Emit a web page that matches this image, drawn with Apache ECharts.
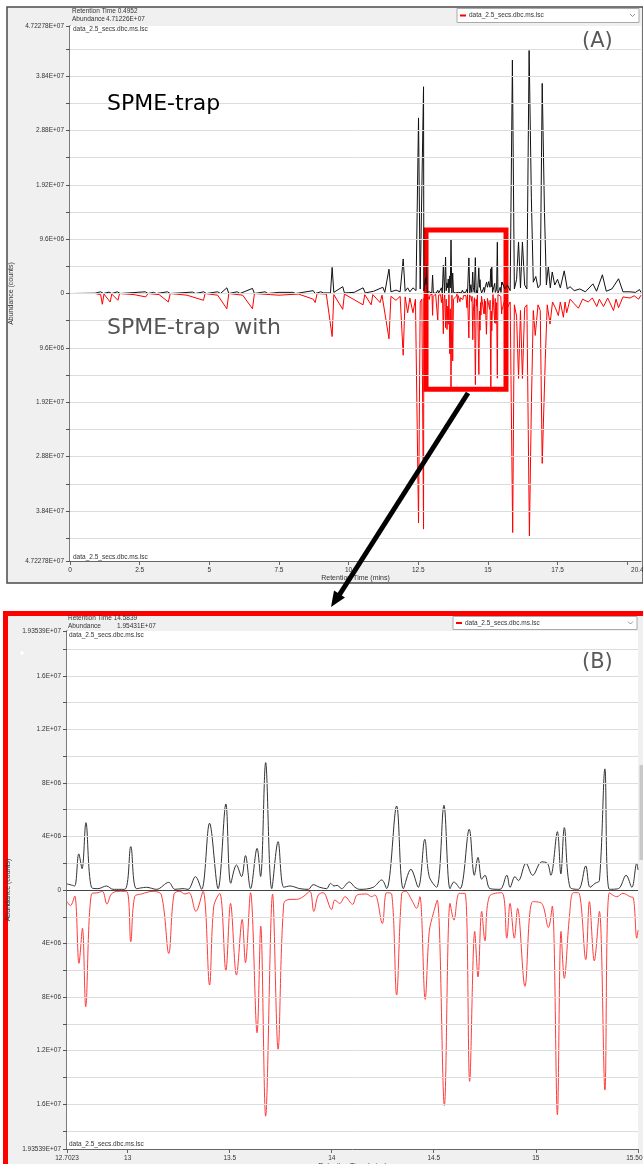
<!DOCTYPE html>
<html><head><meta charset="utf-8">
<script src="https://cdn.jsdelivr.net/npm/echarts@6/dist/echarts.min.js"></script>
<style>html,body{margin:0;padding:0;background:#fff}#c{width:643px;height:1164px}</style>
</head><body><div id="c"></div>
<script>
// ---------------- DATA ----------------
// Panel B (zoomed window 12.7023 – 15.5012 min) : [retention time, abundance]
const bBlack = [[12.7023,0.45e6],[12.724,0.37e6],[12.740,0.3e6],[12.760,2.7e6],[12.776,1.6e6],[12.795,5.03e6],[12.822,0.2e6],[12.854,0.1e6],[12.896,0.3e6],[12.928,0.05e6],[12.985,0.05e6],[13.015,3.24e6],[13.043,0.1e6],[13.092,0.2e6],[13.141,0.05e6],[13.201,0.57e6],[13.231,0.05e6],[13.271,0.1e6],[13.296,0.05e6],[13.332,1.0e6],[13.362,0.05e6],[13.401,4.99e6],[13.443,0.1e6],[13.481,6.43e6],[13.505,0.5e6],[13.533,1.87e6],[13.558,1.0e6],[13.577,2.57e6],[13.602,0.1e6],[13.634,3.11e6],[13.651,1.0e6],[13.676,9.52e6],[13.706,0.1e6],[13.737,3.61e6],[13.765,0.2e6],[13.795,0.3e6],[13.844,0.1e6],[13.885,0.05e6],[13.909,0.4e6],[13.942,0.2e6],[13.975,0.1e6],[13.994,0.5e6],[14.011,0.3e6],[14.027,0.35e6],[14.048,0.1e6],[14.086,0.6e6],[14.114,0.2e6],[14.138,0.05e6],[14.203,0.2e6],[14.245,0.75e6],[14.269,0.1e6],[14.318,6.28e6],[14.351,0.1e6],[14.388,1.55e6],[14.424,0.2e6],[14.456,3.79e6],[14.478,1.0e6],[14.514,0.2e6],[14.550,6.33e6],[14.580,0.1e6],[14.599,0.6e6],[14.629,0.1e6],[14.674,4.54e6],[14.699,1.1e6],[14.717,2.44e6],[14.735,0.8e6],[14.751,1.1e6],[14.776,0.1e6],[14.825,0.05e6],[14.858,1.1e6],[14.874,0.2e6],[14.898,1.0e6],[14.915,0.7e6],[14.952,2.0e6],[14.985,1.1e6],[15.029,2.1e6],[15.057,2.0e6],[15.074,1.1e6],[15.106,4.36e6],[15.123,1.2e6],[15.140,4.66e6],[15.168,0.2e6],[15.209,0.05e6],[15.245,1.8e6],[15.266,0.2e6],[15.291,0.5e6],[15.312,0.7e6],[15.339,9.05e6],[15.361,0.05e6],[15.405,0.1e6],[15.443,1.1e6],[15.471,0.2e6],[15.495,2.0e6],[15.5012,1.5e6]];
const bRed = [[12.7023,-0.87e6],[12.719,-1.17e6],[12.740,-0.45e6],[12.761,-5.48e6],[12.778,-2.86e6],[12.794,-8.72e6],[12.822,-0.3e6],[12.854,-0.2e6],[12.876,-0.1e6],[12.898,-1.05e6],[12.920,-0.3e6],[12.952,-0.1e6],[12.994,-0.1e6],[13.015,-3.86e6],[13.034,-0.5e6],[13.067,-0.3e6],[13.124,-0.1e6],[13.165,-0.37e6],[13.201,-4.74e6],[13.227,-0.3e6],[13.255,-0.1e6],[13.280,-0.3e6],[13.301,-0.2e6],[13.334,-1.6e6],[13.369,-0.1e6],[13.401,-7.1e6],[13.422,-1.2e6],[13.451,-0.25e6],[13.481,-6.03e6],[13.504,-1.0e6],[13.533,-6.36e6],[13.561,-2.2e6],[13.577,-5.43e6],[13.602,-0.2e6],[13.634,-10.67e6],[13.652,-2.7e6],[13.676,-16.9e6],[13.710,-0.3e6],[13.737,-11.9e6],[13.765,-1.0e6],[13.795,-0.7e6],[13.828,-0.7e6],[13.860,-0.5e6],[13.893,-0.1e6],[13.912,-1.6e6],[13.934,-0.37e6],[13.958,-0.2e6],[13.999,-1.45e6],[14.015,-0.75e6],[14.040,-1.0e6],[14.065,-0.5e6],[14.102,-1.07e6],[14.125,-0.37e6],[14.171,-0.3e6],[14.195,-0.5e6],[14.212,-0.37e6],[14.248,-2.5e6],[14.269,-0.2e6],[14.294,-0.3e6],[14.318,-7.85e6],[14.343,-0.25e6],[14.362,-0.1e6],[14.392,-0.75e6],[14.416,-1.37e6],[14.432,-0.5e6],[14.458,-8.17e6],[14.478,-3.1e6],[14.498,-1.75e6],[14.517,-0.75e6],[14.552,-16.1e6],[14.580,-1.0e6],[14.599,-2.25e6],[14.625,-0.25e6],[14.653,-0.25e6],[14.676,-14.3e6],[14.701,-3.1e6],[14.717,-6.5e6],[14.735,-1.6e6],[14.751,-3.8e6],[14.772,-0.5e6],[14.833,-0.2e6],[14.858,-3.6e6],[14.874,-1.0e6],[14.895,-3.6e6],[14.911,-1.37e6],[14.947,-7.2e6],[14.985,-0.87e6],[15.029,-1.0e6],[15.062,-2.8e6],[15.081,-1.2e6],[15.106,-16.8e6],[15.124,-3.1e6],[15.140,-6.6e6],[15.165,-2.0e6],[15.184,-0.2e6],[15.209,-0.2e6],[15.245,-5.2e6],[15.263,-0.87e6],[15.287,-5.3e6],[15.312,-1.6e6],[15.339,-14.95e6],[15.361,-0.2e6],[15.397,-0.5e6],[15.427,-0.25e6],[15.463,-0.5e6],[15.479,-0.6e6],[15.495,-3.6e6],[15.5012,-3.0e6]];

// Panel A (full run) outside the zoomed window
const aBlackPre = [[0,0],[0.9,0.05e6],[1.1,0.3e6],[1.2,0],[1.4,0.25e6],[1.5,0],[1.7,0.3e6],[1.8,0],[2.7,0.3e6],[2.8,0],[3.0,0.2e6],[3.1,0],[3.5,0.3e6],[3.6,0],[4.4,0.25e6],[4.5,0],[4.8,0.3e6],[4.9,0],[5.3,0.3e6],[5.4,0],[5.63,1.0e6],[5.7,0],[6.0,0.3e6],[6.1,0],[6.55,0.9e6],[6.62,0],[7.0,0.3e6],[7.1,0],[7.5,0.2e6],[8.0,0.2e6],[8.1,0],[8.73,0.5e6],[8.8,0],[9.0,0.3e6],[9.1,0.1e6],[9.35,0.1e6],[9.41,4.6e6],[9.47,0.2e6],[9.79,1.2e6],[9.85,0.1e6],[10.2,0.2e6],[10.52,1.0e6],[10.6,0.1e6],[10.9,0.4e6],[11.23,1.1e6],[11.3,0.2e6],[11.45,4.3e6],[11.52,0.3e6],[11.7,0.6e6],[11.85,0.3e6],[11.96,6.1e6],[12.03,0.4e6],[12.12,1.0e6],[12.2,0.3e6],[12.31,1.0e6],[12.42,0.5e6],[12.51,3.1e7],[12.57,0.8e6],[12.63,0.6e6],[12.69,3.65e7]];
const aBlackPost = [[15.52,2.0e6],[15.6,0.8e6],[15.7,1.5e6],[15.8,0.5e6],[15.88,4.12e7],[15.95,0.8e6],[16.03,2.5e6],[16.1,9.1e6],[16.17,1.0e6],[16.24,9.1e6],[16.32,1.5e6],[16.4,0.8e6],[16.48,4.29e7],[16.56,1.7e7],[16.63,2.0e6],[16.72,3.0e6],[16.8,1.0e6],[16.88,1.5e6],[16.95,3.71e7],[17.03,1.46e7],[17.1,1.5e6],[17.17,4.8e6],[17.24,1.0e6],[17.31,3.8e6],[17.4,1.5e6],[17.5,2.5e6],[17.6,1.0e6],[17.74,4.0e6],[17.85,0.8e6],[17.95,1.2e6],[18.1,0.5e6],[18.3,0.8e6],[18.5,0.3e6],[18.77,1.7e6],[18.9,0.4e6],[19.11,3.3e6],[19.25,0.4e6],[19.45,0.8e6],[19.69,2.6e6],[19.85,0.3e6],[20.1,0.3e6],[20.3,0.2e6],[20.44,0.7e6],[20.496,0.2e6]];
const aRedPre = [[0,0],[0.9,0],[1.1,-0.2e6],[1.16,-1.9e6],[1.22,-0.1e6],[1.44,-1.5e6],[1.5,-0.1e6],[1.72,-1.2e6],[1.78,0],[2.3,-0.2e6],[2.72,-0.6e6],[2.8,0],[3.2,-0.2e6],[3.53,-1.5e6],[3.6,0],[4.2,-0.3e6],[4.79,-1.2e6],[4.85,0],[5.3,-0.3e6],[5.63,-2.7e6],[5.7,0],[6.2,-0.3e6],[6.55,-2.7e6],[6.62,0],[7.2,-0.2e6],[7.5,-0.3e6],[8.2,-0.1e6],[8.73,-1.0e6],[8.8,-1.6e6],[8.87,0],[9.2,-0.1e6],[9.41,-7.6e6],[9.47,-0.2e6],[9.79,-2.8e6],[9.85,-0.1e6],[10.52,-2.0e6],[10.58,-0.2e6],[10.81,-2.0e6],[10.87,-0.2e6],[11.13,-1.6e6],[11.2,-0.3e6],[11.45,-8.0e6],[11.52,-0.5e6],[11.7,-1.2e6],[11.85,-0.5e6],[11.96,-1.09e7],[12.03,-0.6e6],[12.12,-3.4e6],[12.2,-0.8e6],[12.31,-3.4e6],[12.4,-1.0e6],[12.51,-4.05e7],[12.57,-1.5e6],[12.63,-1.0e6],[12.69,-4.16e7]];
const aRedPost = [[15.52,-3.0e6],[15.6,-1.2e6],[15.7,-2.5e6],[15.8,-1.5e6],[15.89,-4.22e7],[15.95,-2.0e6],[16.03,-4.0e6],[16.1,-1.5e7],[16.17,-3.0e6],[16.24,-1.5e7],[16.32,-2.5e6],[16.4,-2.0e6],[16.49,-4.28e7],[16.56,-2.0e7],[16.63,-3.0e6],[16.7,-7.4e6],[16.8,-2.0e6],[16.88,-3.0e6],[16.95,-3.0e7],[17.06,-1.17e7],[17.13,-2.0e6],[17.23,-5.4e6],[17.32,-1.5e6],[17.42,-2.5e6],[17.53,-3.9e6],[17.6,-1.5e6],[17.71,-4.2e6],[17.77,-1.5e6],[17.83,-3.4e6],[17.95,-1.0e6],[18.1,-1.8e6],[18.25,-2.6e6],[18.4,-1.0e6],[18.6,-1.5e6],[18.75,-0.8e6],[18.91,-2.3e6],[19.0,-1.0e6],[19.15,-2.3e6],[19.3,-0.8e6],[19.51,-3.0e6],[19.6,-1.0e6],[19.69,-2.5e6],[19.85,-0.6e6],[20.1,-0.8e6],[20.25,-0.4e6],[20.41,-1.0e6],[20.496,-0.3e6]];

// Zoom box drawn on panel A: [t0, t1, top, bottom]
const zoomBox = [12.78, 15.65, 1.12e7, -1.69e7];

// Axis ranges / ticks / labels
const aXRange = [0, 20.496];
const aXLabels = [0, 2.5, 5, 7.5, 10, 12.5, 15, 17.5, 20.496];
const aXTicks = [0, 2.5, 5, 7.5, 10, 12.5, 15, 17.5, 20];
const aYRange = [-47227800, 47227800];
const aYLabels = [-47227800, -38400000, -28800000, -19200000, -9600000, 0, 9600000, 19200000, 28800000, 38400000, 47227800];
const aYTicks = [-47227800, -43200000, -38400000, -33600000, -28800000, -24000000, -19200000, -14400000, -9600000, -4800000, 0, 4800000, 9600000, 14400000, 19200000, 24000000, 28800000, 33600000, 38400000, 43200000, 47227800];
const bXRange = [12.7023, 15.5012];
const bXLabels = [12.7023, 13, 13.5, 14, 14.5, 15, 15.5012];
const bYRange = [-19353900, 19353900];
const bYLabels = [-19353900, -16000000, -12000000, -8000000, -4000000, 0, 4000000, 8000000, 12000000, 16000000, 19353900];
const bYTicks = [-19353900, -18000000, -16000000, -14000000, -12000000, -10000000, -8000000, -6000000, -4000000, -2000000, 0, 2000000, 4000000, 6000000, 8000000, 10000000, 12000000, 14000000, 16000000, 18000000, 19353900];

const fileName = 'data_2.5_secs.dbc.ms.lsc';
// ---------------- CHART ----------------
const UI = '"Liberation Sans", Arial, sans-serif';
function sci(v) {
  if (v === 0) return '0';
  const s = Math.abs(v).toExponential();
  const [m, e] = s.split('e');
  const n = parseInt(e, 10);
  return m + 'E' + (n >= 0 ? '+' : '-') + String(Math.abs(n)).padStart(2, '0');
}
const chart = echarts.init(document.getElementById('c'), null, {renderer: 'canvas', width: 643, height: 1164});

function xAx(gi, range, labels, ticks) {
  return {
    type: 'value', gridIndex: gi, min: range[0], max: range[1],
    name: 'Retention Time (mins)', nameLocation: 'middle', nameGap: 14,
    nameTextStyle: {fontSize: 7, color: '#333', fontFamily: UI},
    axisLine: {onZero: false, lineStyle: {color: '#666', width: 1}},
    axisTick: {show: true, length: 4, customValues: ticks, lineStyle: {color: '#666'}},
    axisLabel: {customValues: labels, fontSize: 6.5, color: '#333', fontFamily: UI, margin: 6,
      formatter: v => String(v)},
    splitLine: {show: false}
  };
}
function yAx(gi, range, labels, ticks, gap) {
  return {
    type: 'value', gridIndex: gi, min: range[0], max: range[1],
    name: 'Abundance (counts)', nameLocation: 'middle', nameGap: gap, nameRotate: 90,
    nameTextStyle: {fontSize: 7, color: '#333', fontFamily: UI},
    axisLine: {show: true, lineStyle: {color: '#555', width: 1.5}},
    axisTick: {show: true, length: 4, customValues: ticks, lineStyle: {color: '#555'}},
    axisLabel: {customValues: labels, fontSize: 6.5, color: '#333', fontFamily: UI, margin: 6,
      formatter: v => sci(v)},
    splitLine: {show: false}
  };
}
function gridSeries(xi, ticks) {
  return {type: 'line', xAxisIndex: xi, yAxisIndex: xi, data: [], silent: true, z: 2,
    markLine: {silent: true, symbol: 'none', label: {show: false}, animation: false,
      lineStyle: {color: '#dcdcdc', width: 1, type: 'solid'},
      data: ticks.slice(1, -1).map(v => ({yAxis: v}))}};
}

const option = {
  animation: false,
  backgroundColor: '#ffffff',
  grid: [
    {left: 70, top: 26, width: 571, height: 535, show: true, backgroundColor: '#ffffff', borderWidth: 0, z: 1, outerBoundsMode: 'none', containLabel: false},
    {left: 67, top: 631, width: 571, height: 518, show: true, backgroundColor: '#ffffff', borderWidth: 0, z: 1, outerBoundsMode: 'none', containLabel: false}
  ],
  xAxis: [xAx(0, aXRange, aXLabels, aXTicks), xAx(1, bXRange, bXLabels, bXLabels)],
  yAxis: [yAx(0, aYRange, aYLabels, aYTicks, 52), yAx(1, bYRange, bYLabels, bYTicks, 50)],
  series: [
    gridSeries(0, aYTicks),
    gridSeries(1, bYTicks),
    {type: 'line', xAxisIndex: 0, yAxisIndex: 0, data: aBlackPre.concat(bBlack, aBlackPost),
      showSymbol: false, symbol: 'none', lineStyle: {color: '#111', width: 1}, z: 3},
    {type: 'line', xAxisIndex: 0, yAxisIndex: 0, data: aRedPre.concat(bRed, aRedPost),
      showSymbol: false, symbol: 'none', lineStyle: {color: '#ff0000', width: 1}, z: 4,
      markArea: {silent: true, label: {show: false},
        itemStyle: {color: 'rgba(0,0,0,0)', borderColor: '#ff0000', borderWidth: 5},
        data: [[{xAxis: zoomBox[0], yAxis: zoomBox[2]}, {xAxis: zoomBox[1], yAxis: zoomBox[3]}]]}},
    {type: 'line', xAxisIndex: 1, yAxisIndex: 1, data: bBlack, smooth: 0.35,
      showSymbol: false, symbol: 'none', lineStyle: {color: '#333', width: 1}, z: 3,
      markLine: {silent: true, symbol: 'none', label: {show: false},
        lineStyle: {color: '#444', width: 1, type: 'solid'}, data: [{yAxis: 0}]}},
    {type: 'line', xAxisIndex: 1, yAxisIndex: 1, data: bRed, smooth: 0.35,
      showSymbol: false, symbol: 'none', lineStyle: {color: '#ff3b3b', width: 1}, z: 4}
  ],
  graphic: [
    // panel A frame
    {type: 'rect', z: -10, shape: {x: 7, y: 7, width: 636, height: 576}, style: {fill: '#f0f0f0', stroke: '#4a4a4a', lineWidth: 1.5}},
    // panel B frame
    {type: 'rect', z: -10, shape: {x: 5.5, y: 613.5, width: 640, height: 556}, style: {fill: '#f0f0f0', stroke: '#ff0000', lineWidth: 5}},
    // panel A header
    {type: 'text', z: 10, style: {text: 'Retention Time 0.4952', x: 72, y: 11, font: '6.5px ' + UI, fill: '#333', verticalAlign: 'middle'}},
    {type: 'text', z: 10, style: {text: 'Abundance', x: 72, y: 19, font: '6.5px ' + UI, fill: '#333', verticalAlign: 'middle'}},
    {type: 'text', z: 10, style: {text: '4.71226E+07', x: 106, y: 19, font: '6.5px ' + UI, fill: '#333', verticalAlign: 'middle'}},
    {type: 'rect', z: 10, shape: {x: 457, y: 8.5, width: 182, height: 14}, style: {fill: '#fff', stroke: '#aaa', lineWidth: 1}},
    {type: 'rect', z: 11, shape: {x: 460, y: 14.5, width: 6, height: 2}, style: {fill: '#ff0000'}},
    {type: 'text', z: 11, style: {text: fileName, x: 469, y: 15.5, font: '6.5px ' + UI, fill: '#333', verticalAlign: 'middle'}},
    {type: 'polyline', z: 11, shape: {points: [[630, 14], [632.5, 16.5], [635, 14]]}, style: {stroke: '#777', lineWidth: 0.8, fill: null}},
    {type: 'text', z: 10, style: {text: fileName, x: 73, y: 29.5, font: '6.5px ' + UI, fill: '#333', verticalAlign: 'middle'}},
    {type: 'text', z: 10, style: {text: fileName, x: 73, y: 557, font: '6.5px ' + UI, fill: '#333', verticalAlign: 'middle'}},
    {type: 'text', z: 10, style: {text: '(A)', x: 582, y: 42, font: '21px "DejaVu Sans"', fill: '#595959', verticalAlign: 'middle'}},
    {type: 'text', z: 10, style: {text: 'SPME-trap', x: 107, y: 104, font: '22px "DejaVu Sans"', fill: '#000', verticalAlign: 'middle'}},
    {type: 'text', z: 10, style: {text: 'SPME-trap  with', x: 107, y: 328, font: '22px "DejaVu Sans"', fill: '#555', verticalAlign: 'middle'}},
    // panel B header
    {type: 'text', z: 10, style: {text: 'Retention Time 14.5839', x: 68, y: 618, font: '6.5px ' + UI, fill: '#333', verticalAlign: 'middle'}},
    {type: 'text', z: 10, style: {text: 'Abundance', x: 68, y: 626, font: '6.5px ' + UI, fill: '#333', verticalAlign: 'middle'}},
    {type: 'text', z: 10, style: {text: '1.95431E+07', x: 117, y: 626, font: '6.5px ' + UI, fill: '#333', verticalAlign: 'middle'}},
    {type: 'rect', z: 10, shape: {x: 453, y: 616.5, width: 184, height: 13}, style: {fill: '#fff', stroke: '#aaa', lineWidth: 1}},
    {type: 'rect', z: 11, shape: {x: 456, y: 622, width: 6, height: 2}, style: {fill: '#ff0000'}},
    {type: 'text', z: 11, style: {text: fileName, x: 465, y: 623, font: '6.5px ' + UI, fill: '#333', verticalAlign: 'middle'}},
    {type: 'polyline', z: 11, shape: {points: [[628, 621.5], [630.5, 624], [633, 621.5]]}, style: {stroke: '#777', lineWidth: 0.8, fill: null}},
    {type: 'text', z: 10, style: {text: fileName, x: 69, y: 635, font: '6.5px ' + UI, fill: '#333', verticalAlign: 'middle'}},
    {type: 'text', z: 10, style: {text: fileName, x: 69, y: 1144, font: '6.5px ' + UI, fill: '#333', verticalAlign: 'middle'}},
    {type: 'text', z: 10, style: {text: '(B)', x: 582, y: 663, font: '21px "DejaVu Sans"', fill: '#595959', verticalAlign: 'middle'}},
    {type: 'circle', z: 10, shape: {cx: 22, cy: 653, r: 1.8}, style: {fill: '#fff'}},
    {type: 'rect', z: 10, shape: {x: 639.5, y: 765, width: 3.5, height: 95}, style: {fill: '#c8c8c8'}},
    // arrow from zoom box to panel B
    {type: 'polyline', z: 20, shape: {points: [[468, 393], [338, 597]]}, style: {stroke: '#000', lineWidth: 5, fill: null}},
    {type: 'polygon', z: 20, shape: {points: [[331, 607], [345, 597.4], [334, 590.5]]}, style: {fill: '#000'}}
  ]
};
chart.setOption(option);
</script></body></html>
